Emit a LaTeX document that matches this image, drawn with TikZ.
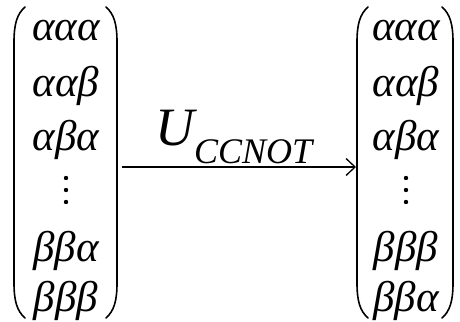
\documentclass[tikz,border=0pt]{standalone}
\usepackage{fontspec}
\setmainfont{Liberation Serif}
\usetikzlibrary{arrows.meta}
\tikzset{
  entry/.style={font=\fontsize{43}{52}\selectfont\itshape, anchor=base, inner sep=0pt},
  paren/.style={line width=1.6pt, line cap=round},
  gatearrow/.style={line width=1.3pt, -{Straight Barb[length=9pt, width=17pt, line width=1.3pt]}}
}
\begin{document}
\begin{tikzpicture}[x=1pt, y=-1pt]
  \useasboundingbox (0,0) rectangle (460,321);

  % Parentheses (left ones open with d=1, right ones close with d=-1)
  \foreach \x/\d in {14/1, 117/-1, 357/1, 453/-1}
    \draw[paren] ({\x+11*\d},7) .. controls ({\x+3*\d},14) and (\x,24) .. (\x,42)
      -- (\x,283) .. controls (\x,301) and ({\x+3*\d},311) .. ({\x+11*\d},318);

  % Input state
  \foreach \y/\txt/\n in {41/ααα/1, 96/ααβ/2, 150/αβα/3, 261/ββα/5, 311/βββ/6}
    \node[entry] (in\n) at (66,\y) {\txt};
  \foreach \y in {178,190,202}
    \fill (66,\y) circle (2.2pt);

  % Output state (last two rows swapped)
  \foreach \y/\txt/\n in {41/ααα/1, 96/ααβ/2, 150/αβα/3, 261/βββ/5, 311/ββα/6}
    \node[entry] (out\n) at (406,\y) {\txt};
  \foreach \y in {178,190,202}
    \fill (406,\y) circle (2.2pt);

  % Gate
  \coordinate (src) at (122,167);
  \coordinate (dst) at (356,167);
  \draw[gatearrow] (src) -- (dst);
  \node[anchor=base west, inner sep=0pt, font=\itshape] (gate) at (155,145)
    {{\fontsize{54}{54}\selectfont U}\raisebox{-18pt}{\fontsize{36}{36}\selectfont CCNOT}};

\end{tikzpicture}
\end{document}
